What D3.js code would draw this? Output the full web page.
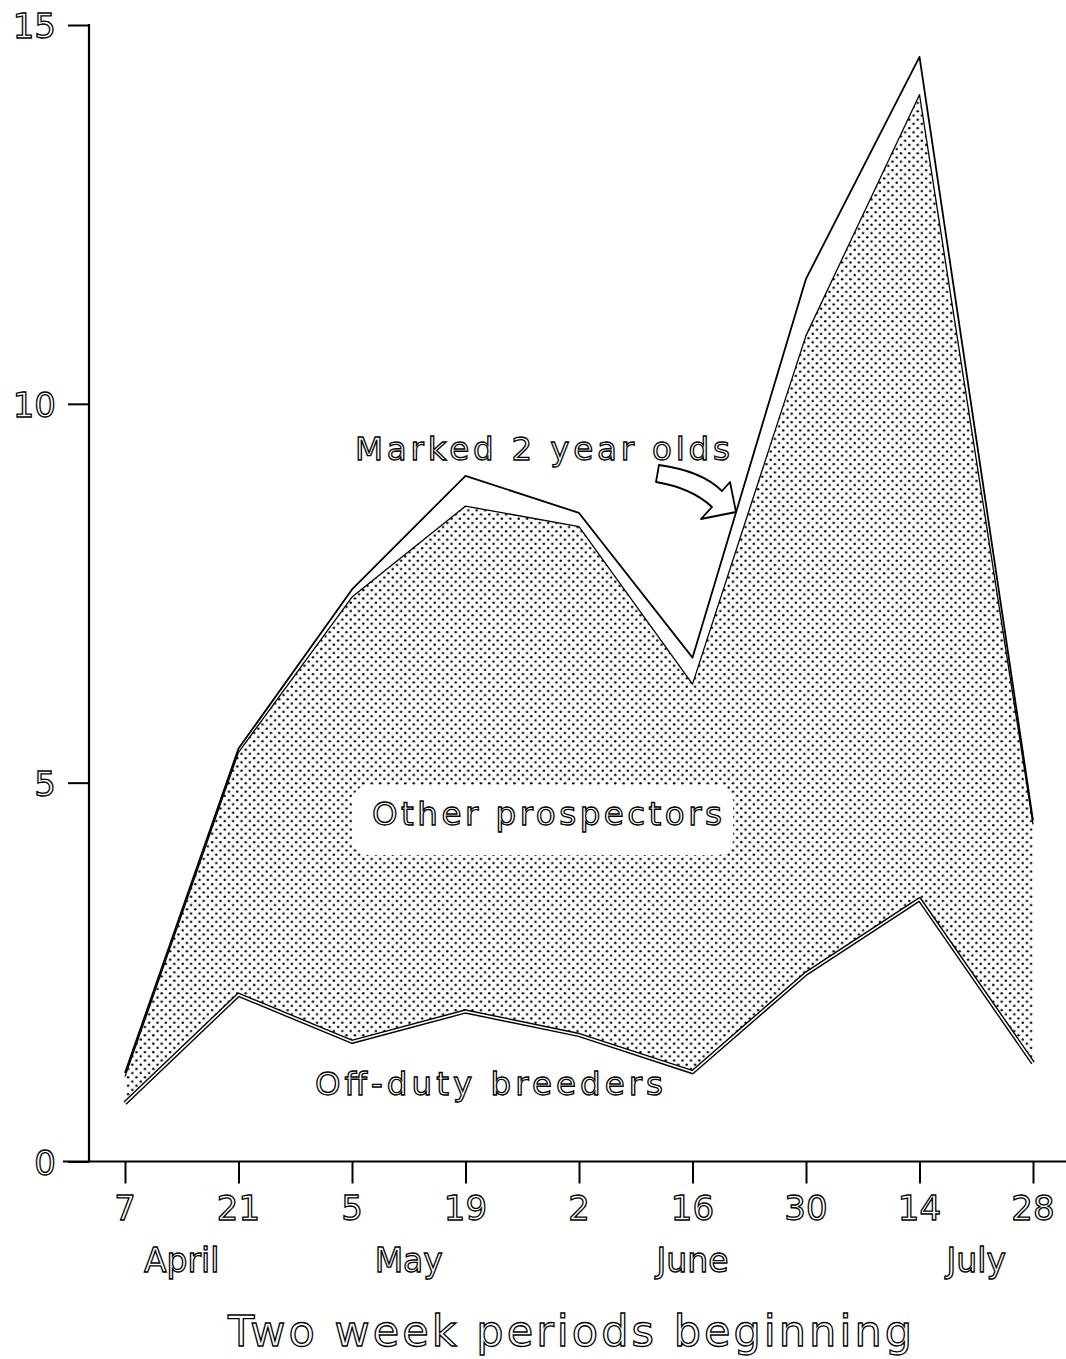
<!DOCTYPE html>
<html><head><meta charset="utf-8">
<script src="https://cdn.jsdelivr.net/npm/d3@7"></script>
<style>
html,body{margin:0;padding:0;background:#fff;}
svg{display:block;}
.ol{fill:#fff;stroke:#000;stroke-width:1.3px;font-family:"DejaVu Sans",Verdana,sans-serif;}
</style></head>
<body>
<svg id="c" width="1066" height="1359"></svg>
<script>
// ---- data ----
const periods = ["7","21","5","19","2","16","30","14","28"];
const months = ["April","May","June","July"];
const monthPos = [0.5, 2.5, 5, 7.5];            // position in period units
const offDuty = [0.77, 2.20, 1.58, 1.98, 1.67, 1.18, 2.48, 3.46, 1.30];
const otherProspectors = [0.35, 3.20, 5.87, 6.67, 6.71, 5.12, 8.42, 10.62, 3.15];
const marked2yr = [0.05, 0.05, 0.10, 0.40, 0.18, 0.35, 0.75, 0.50, 0.05];
const yTicks = [0, 5, 10, 15];

const svg = d3.select("#c");
const x = d3.scaleLinear().domain([0, periods.length - 1]).range([125, 1033]);
const y = d3.scaleLinear().domain([0, 15]).range([1161.5, 25]);

// stack
const rows = periods.map((p, i) => ({i, off: offDuty[i], other: otherProspectors[i], marked: marked2yr[i]}));
const stack = d3.stack().keys(["off", "other", "marked"])(rows);
const sOff = stack[0], sOther = stack[1], sMarked = stack[2];

// dot pattern
const defs = svg.append("defs");
const pat = defs.append("pattern").attr("id", "dots").attr("patternUnits", "userSpaceOnUse")
  .attr("width", 8.4).attr("height", 8.4);
pat.append("circle").attr("cx", 2.1).attr("cy", 2.1).attr("r", 1.25).attr("fill", "#000");
pat.append("circle").attr("cx", 6.3).attr("cy", 6.3).attr("r", 1.25).attr("fill", "#000");

// shaded area (other prospectors)
const area = d3.area().x((d, i) => x(i)).y0(d => y(d[0])).y1(d => y(d[1]));
svg.append("path").datum(sOther).attr("d", area).attr("fill", "url(#dots)");

const lineTop = d3.line().x((d, i) => x(i)).y(d => y(d[1]));
// shaded top edge
svg.append("path").datum(sOther).attr("d", lineTop).attr("fill", "none")
  .attr("stroke", "#000").attr("stroke-width", 1.3).attr("stroke-linejoin", "round");
// marked 2 year olds top line
svg.append("path").datum(sMarked).attr("d", lineTop).attr("fill", "none")
  .attr("stroke", "#000").attr("stroke-width", 1.8).attr("stroke-linejoin", "round");
// off-duty breeders line (double line)
svg.append("path").datum(sOff).attr("d", lineTop).attr("fill", "none")
  .attr("stroke", "#000").attr("stroke-width", 4.4).attr("stroke-linejoin", "round");
svg.append("path").datum(sOff).attr("d", lineTop).attr("fill", "none")
  .attr("stroke", "#fff").attr("stroke-width", 1.6).attr("stroke-linejoin", "round");

// white label box inside shaded region
svg.append("rect").attr("x", 353).attr("y", 785).attr("width", 380).attr("height", 70)
  .attr("rx", 16).attr("fill", "#fff");

// axes
const xAxis = d3.axisBottom(x).tickValues(d3.range(periods.length)).tickSize(22).tickFormat("");
const gx = svg.append("g").attr("transform", `translate(0,${y(0)})`).call(xAxis);
gx.select(".domain").remove();
gx.selectAll(".tick line").attr("stroke", "#000").attr("stroke-width", 2);
svg.append("line").attr("x1", 63).attr("x2", 1066).attr("y1", y(0)).attr("y2", y(0))
  .attr("stroke", "#000").attr("stroke-width", 2.2);

const yAxis = d3.axisLeft(y).tickValues(yTicks).tickSize(21).tickFormat("");
const gy = svg.append("g").attr("transform", "translate(89,0)").call(yAxis);
gy.select(".domain").remove();
gy.selectAll(".tick line").attr("stroke", "#000").attr("stroke-width", 2);
svg.append("line").attr("x1", 89).attr("x2", 89).attr("y1", y(15) - 1).attr("y2", y(0))
  .attr("stroke", "#000").attr("stroke-width", 2.2);

// tick labels (outlined text)
svg.selectAll(".yl").data(yTicks).enter().append("text").attr("class", "ol")
  .attr("x", 56).attr("y", d => y(d) + 13).attr("text-anchor", "end")
  .attr("font-size", 34).text(d => d);
svg.selectAll(".xl").data(periods).enter().append("text").attr("class", "ol")
  .attr("x", (d, i) => x(i)).attr("y", 1220).attr("text-anchor", "middle")
  .attr("font-size", 34).text(d => d);
svg.selectAll(".ml").data(months).enter().append("text").attr("class", "ol")
  .attr("x", (d, i) => x(monthPos[i])).attr("y", 1272).attr("text-anchor", "middle")
  .attr("font-size", 33).text(d => d);

// axis title
svg.append("text").attr("class", "ol").attr("x", 228).attr("y", 1346)
  .attr("font-size", 43).attr("textLength", 684).attr("lengthAdjust", "spacing")
  .text("Two week periods beginning");

// series labels
svg.append("text").attr("class", "ol").attr("x", 355).attr("y", 460)
  .attr("font-size", 32.5).attr("textLength", 375).attr("lengthAdjust", "spacing")
  .text("Marked 2 year olds");
svg.append("text").attr("class", "ol").attr("x", 372).attr("y", 825)
  .attr("font-size", 32.5).attr("textLength", 350).attr("lengthAdjust", "spacing")
  .text("Other prospectors");
svg.append("text").attr("class", "ol").attr("x", 315).attr("y", 1095)
  .attr("font-size", 32.5).attr("textLength", 348).attr("lengthAdjust", "spacing")
  .text("Off-duty breeders");

// hollow arrow pointing to the marked line
svg.append("path")
  .attr("d", "M659,465 Q702,471 722,491 L730,482 L736,512 L701,519 L712,507 Q692,488 656,482 Z")
  .attr("fill", "#fff").attr("stroke", "#000").attr("stroke-width", 1.8).attr("stroke-linejoin", "round");
</script>
</body></html>
